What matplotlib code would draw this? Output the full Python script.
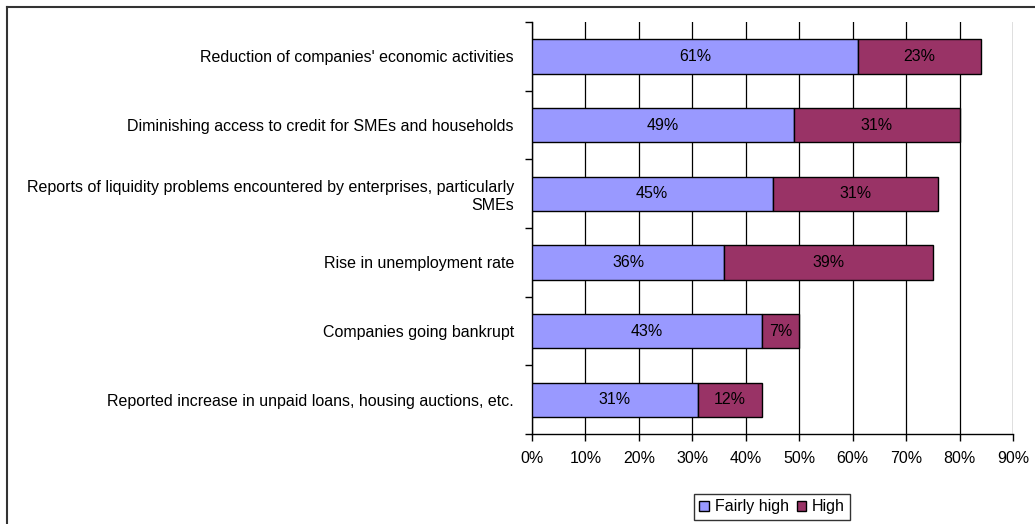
import numpy as np
import matplotlib.pyplot as plt
from matplotlib.lines import Line2D

plt.rcParams['font.family'] = ['Liberation Sans', 'DejaVu Sans']

categories = [
    "Reduction of companies' economic activities",
    "Diminishing access to credit for SMEs and households",
    "Reports of liquidity problems encountered by enterprises, particularly\nSMEs",
    "Rise in unemployment rate",
    "Companies going bankrupt",
    "Reported increase in unpaid loans, housing auctions, etc.",
]
fairly_high = [61, 49, 45, 36, 43, 31]
high = [23, 31, 31, 39, 7, 12]
xticks = [0, 10, 20, 30, 40, 50, 60, 70, 80, 90]

FS = 11.5
W, H = 1035, 524
fig = plt.figure(figsize=(W / 100, H / 100), dpi=100)
ax = fig.add_axes([532 / W, 1 - 434 / H, (1013 - 532) / W, (434 - 22) / H])

y = np.arange(len(categories))
b1 = ax.barh(y, fairly_high, height=0.5, color='#9999FF', edgecolor='black',
             linewidth=1, label='Fairly high', zorder=3)
b2 = ax.barh(y, high, left=fairly_high, height=0.5, color='#993366',
             edgecolor='black', linewidth=1, label='High', zorder=3)

for vals, lefts in [(fairly_high, [0] * 6), (high, fairly_high)]:
    for yi, v, l in zip(y, vals, lefts):
        ax.text(l + v / 2, yi, f"{v}%", ha='center', va='center',
                fontsize=FS, color='black', zorder=4)

ax.set_xlim(0, 90)
ax.set_ylim(len(categories) - 0.5, -0.5)
ax.set_xticks(xticks)
ax.set_xticklabels([f"{t}%" for t in xticks], fontsize=FS)
ax.xaxis.grid(True, color='black', linewidth=0.9, zorder=0)

# category labels on the left, ticks between categories
ax.set_yticks(y)
ax.set_yticklabels(categories, fontsize=FS, ha='right')
ax.tick_params(axis='y', length=0, pad=13)
ax.set_yticks(np.arange(-0.5, len(categories), 1), minor=True)
ax.tick_params(axis='y', which='minor', length=5, width=1, direction='out')
ax.tick_params(axis='x', length=5, width=1, direction='out', pad=7)

for s in ['top', 'right']:
    ax.spines[s].set_visible(False)
for s in ['left', 'bottom']:
    ax.spines[s].set_color('black')
    ax.spines[s].set_linewidth(1)

leg = fig.legend(handles=[b1, b2], loc='center', bbox_to_anchor=(772 / W, 1 - 507 / H),
                 ncol=2, fontsize=FS, frameon=True, fancybox=False,
                 handlelength=0.6, handleheight=0.6, handletextpad=0.35,
                 columnspacing=0.5, borderpad=0.35, edgecolor='black')
leg.get_frame().set_linewidth(1)

# outer chart border
fig.add_artist(Line2D([7 / W, 7 / W], [0, 1 - 7 / H], color='#333333', lw=1.5))
fig.add_artist(Line2D([7 / W, 1], [1 - 7 / H, 1 - 7 / H], color='#333333', lw=1.5))

fig.savefig('out.png', dpi=100)
